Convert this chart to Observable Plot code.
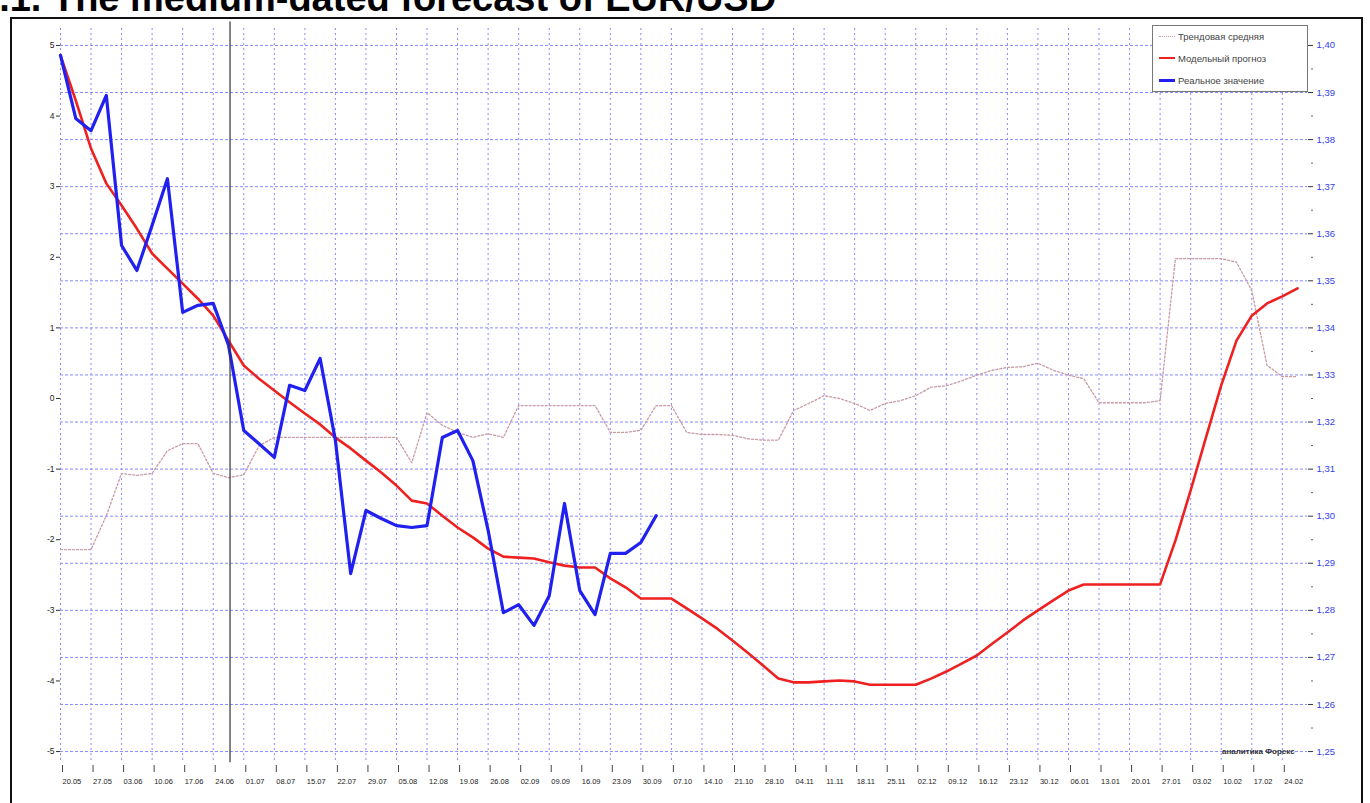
<!DOCTYPE html>
<html>
<head>
<meta charset="utf-8">
<script src="https://cdn.jsdelivr.net/npm/d3@7"></script>
<script src="https://cdn.jsdelivr.net/npm/@observablehq/plot@0.6"></script>
<style>
  html, body { margin: 0; padding: 0; background: #fff; overflow: hidden; }
  body { width: 1370px; height: 803px; position: relative; font-family: "Liberation Sans", Arial, sans-serif; }
  #title { position: absolute; left: -22px; top: -21px; font: bold 38px "Liberation Sans", Arial, sans-serif; line-height: 38px; color: #000; white-space: nowrap; }
  #frame { position: absolute; left: 10px; top: 17px; width: 1353px; height: 800px; border: 2px solid #111; box-sizing: border-box; }
  #chart { position: absolute; left: 0; top: 0; }
  #legend { position: absolute; left: 1152px; top: 25px; width: 156px; height: 67px; background: #fff; border: 1px solid #777; box-sizing: border-box; font-size: 9.5px; color: #444; }
  #legend .row { position: absolute; left: 6px; height: 12px; display: flex; align-items: center; white-space: nowrap; }
  #legend .sw { width: 16px; height: 0; margin-right: 3px; }
  #wm { position: absolute; left: 1222px; top: 747px; font-size: 8px; font-weight: bold; color: #333; }
</style>
</head>
<body>
<div id="chart"></div>
<div id="frame"></div>
<div id="title">4.1. The medium-dated forecast of EUR/USD</div>
<div id="legend"></div>
<div id="wm">аналитика Форекс</div>
<script>
// ---- data ----
const xTickLabels = ["20.05","27.05","03.06","10.06","17.06","24.06","01.07","08.07","15.07","22.07","29.07","05.08","12.08","19.08","26.08","02.09","09.09","16.09","23.09","30.09","07.10","14.10","21.10","28.10","04.11","11.11","18.11","25.11","02.12","09.12","16.12","23.12","30.12","06.01","13.01","20.01","27.01","03.02","10.02","17.02","24.02"];

// Real values (blue), right axis, one point every half period
const realValues = [1.3979,1.3845,1.3819,1.3894,1.3575,1.3522,1.3618,1.3717,1.3433,1.3448,1.3452,1.3363,1.3182,1.3154,1.3125,1.3278,1.3267,1.3335,1.3161,1.2878,1.3012,1.2995,1.2980,1.2976,1.2980,1.3167,1.3182,1.3118,1.2970,1.2795,1.2812,1.2768,1.2831,1.3027,1.2842,1.2791,1.2921,1.2921,1.2944,1.3001];

// Forecast (red), right axis
const forecastValues = [1.3979,1.3883,1.3781,1.3707,1.3660,1.3611,1.3558,1.3526,1.3494,1.3462,1.3426,1.3373,1.3320,1.3292,1.3267,1.3242,1.3218,1.3195,1.3167,1.3144,1.3118,1.3093,1.3065,1.3033,1.3027,1.3001,1.2976,1.2955,1.2931,1.2914,1.2912,1.2910,1.2902,1.2895,1.2891,1.2891,1.2868,1.2849,1.2825,1.2825,
  1.2825,1.2804,1.2783,1.2761,1.2736,1.2710,1.2683,1.2655,1.2647,1.2647,1.2649,1.2651,1.2649,1.2642,1.2642,1.2642,1.2642,1.2655,1.2670,1.2687,1.2704,1.2729,1.2753,1.2778,1.2800,1.2821,1.2842,1.2855,1.2855,1.2855,1.2855,1.2855,1.2855,1.2948,1.3055,1.3167,1.3278,1.3373,1.3426,1.3452,1.3467,1.3484];

// Trend average (pink dotted), left axis
const trendValues = [-2.14,-2.14,-2.14,-1.66,-1.06,-1.09,-1.06,-0.74,-0.64,-0.64,-1.06,-1.12,-1.08,-0.67,-0.55,-0.55,-0.55,-0.55,-0.55,-0.55,-0.55,-0.55,-0.55,-0.91,-0.20,-0.38,-0.48,-0.55,-0.50,-0.55,-0.10,-0.10,-0.10,-0.10,-0.10,-0.10,-0.48,-0.48,-0.45,-0.10,-0.10,-0.48,-0.51,-0.51,-0.52,-0.57,-0.59,-0.59,-0.17,-0.07,0.04,0.00,-0.07,-0.17,-0.07,-0.03,0.04,0.16,0.18,0.25,0.33,0.40,0.44,0.45,0.50,0.40,0.33,0.28,-0.06,-0.06,-0.06,-0.06,-0.03,1.98,1.98,1.98,1.98,1.93,1.53,0.47,0.31,0.31];

const rightTicks = [1.25,1.26,1.27,1.28,1.29,1.30,1.31,1.32,1.33,1.34,1.35,1.36,1.37,1.38,1.39,1.40];
const leftTicks = [5,4,3,2,1,0,-1,-2,-3,-4,-5];
const currentIndex = 11.1;

const legendItems = ["Трендовая средняя", "Модельный прогноз", "Реальное значение"];

// ---- build ----
const leftToRight = v => 1.40 - (5 - v) * 0.015;
const real = realValues.map((v, i) => ({i, v}));
const forecast = forecastValues.map((v, i) => ({i, v}));
const trend = trendValues.map((v, i) => ({i, v: leftToRight(v)}));
const xTicks = xTickLabels.map((d, k) => k * 2);
const minorRight = rightTicks.slice(0, -1).map(d => d + 0.005);
const gridColor = "#8a8aff";
const Y0 = 1.2481, Y1 = 1.4036;

const chart = Plot.plot({
  width: 1370,
  height: 803,
  marginLeft: 60,
  marginRight: 63,
  marginTop: 28,
  marginBottom: 43,
  style: {fontFamily: "Liberation Sans, Arial, sans-serif", fontSize: "8px", background: "transparent", overflow: "visible"},
  x: {domain: [0, 81.65], axis: null},
  y: {domain: [Y0, Y1], axis: null},
  marks: [
    Plot.ruleY(rightTicks, {stroke: gridColor, strokeDasharray: "3,2", strokeWidth: 1}),
    Plot.ruleX(xTicks, {stroke: gridColor, strokeDasharray: "2,3", strokeWidth: 1}),
    Plot.line(trend, {x: "i", y: "v", stroke: "#c99aa4", strokeWidth: 1.3, strokeDasharray: "2,2"}),
    Plot.line(forecast, {x: "i", y: "v", stroke: "#ee2020", strokeWidth: 2.6}),
    Plot.line(real, {x: "i", y: "v", stroke: "#2020f0", strokeWidth: 3.2}),
    Plot.ruleX([currentIndex], {y1: Y0 - 0.0005, y2: 1.405, stroke: "#333", strokeWidth: 1.2, clip: false}),
    Plot.axisX({ticks: xTicks, tickFormat: d => xTickLabels[d / 2], label: null, tickSize: 7, dy: 5, tickPadding: 6, textAnchor: "start", dx: 2, stroke: "#444", fill: "#222", fontSize: 7.5}),
    Plot.axisY({anchor: "right", ticks: rightTicks, tickFormat: d => d.toFixed(2).replace(".", ","), label: null, tickSize: 5, tickPadding: 4, stroke: "#333", fill: "#3340ee", fontSize: 9.5}),
    Plot.axisY({anchor: "right", ticks: minorRight, tickFormat: () => "", label: null, tickSize: 2, dx: 3, stroke: "#666"}),
    Plot.axisY({anchor: "left", ticks: leftTicks.map(leftToRight), tickFormat: d => String(Math.round((d - 1.325) / 0.015)), label: null, tickSize: 4, tickPadding: 2, stroke: "#333", fill: "#222", fontSize: 8.5})
  ]
});
document.getElementById("chart").appendChild(chart);

// legend
const legend = document.getElementById("legend");
const styles = [
  {c: "#c99aa4", w: 1.3, dash: "dotted"},
  {c: "#ee2020", w: 2.6, dash: "solid"},
  {c: "#2020f0", w: 3.2, dash: "solid"}
];
legendItems.forEach((t, k) => {
  const row = document.createElement("div");
  row.className = "row";
  row.style.top = (4 + k * 22) + "px";
  const sw = document.createElement("div");
  sw.className = "sw";
  sw.style.borderTop = `${styles[k].w}px ${styles[k].dash} ${styles[k].c}`;
  row.appendChild(sw);
  const tx = document.createElement("span");
  tx.textContent = t;
  row.appendChild(tx);
  legend.appendChild(row);
});
</script>
</body>
</html>
